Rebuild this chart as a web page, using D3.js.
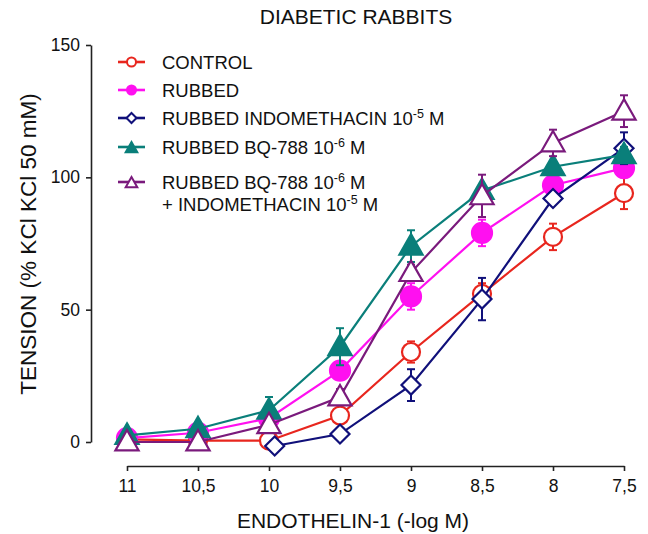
<!DOCTYPE html>
<html>
<head>
<meta charset="utf-8">
<script src="https://cdn.jsdelivr.net/npm/d3@7"></script>
<style>
  body { margin: 0; background: #fff; }
  text { font-family: "Liberation Sans", Arial, Helvetica, sans-serif; fill: #111; }
</style>
</head>
<body>
<svg id="chart" width="648" height="534"></svg>
<script>
// Dose axis (-log M) and tick labels
const doses = [11, 10.5, 10, 9.5, 9, 8.5, 8, 7.5];
const doseLabels = ["11", "10,5", "10", "9,5", "9", "8,5", "8", "7,5"];
const yTicks = [0, 50, 100, 150];

// Series values (% KCl 50 mM) and SEM
const control = [1, 0.5, 0.5, 10, 34, 56, 77.5, 94];
const controlErr = [0, 0, 0, 2, 4, 4, 5, 6];
const rubbed = [1.5, 3.5, 9, 27, 55, 79, 97, 103.5];
const rubbedErr = [0, 0, 1, 2, 5, 5, 3, 3];
const indoDoses = [9.96, 9.5, 9, 8.5, 8, 7.5];
const indo = [-1.5, 3, 21.5, 54, 92, 111];
const indoErr = [0, 0, 6, 8, 2, 6];
const bq = [2.5, 5, 12, 36, 74, 95, 104, 108.5];
const bqErr = [0, 1, 5, 7, 6, 2, 2, 3];
const bqIndo = [0, 0, 6.5, 17, 64, 93, 113, 125];
const bqIndoErr = [0, 0, 2, 3, 3, 8, 5, 6];

const svg = d3.select("#chart");

const x = d3.scaleLinear().domain([11, 7.5]).range([127, 624]);
const y = d3.scaleLinear().domain([0, 150]).range([442, 45]);

// marker shapes
const tri = s => `M0,${-s * 0.6}L${s * 0.58},${s * 0.42}L${-s * 0.58},${s * 0.42}Z`;
const diamond = s => `M0,${-s}L${s},0L0,${s}L${-s},0Z`;

const series = [
  { name: "CONTROL", color: "#e8261e", shape: "circle", fill: "#fff", xs: doses, ys: control, err: controlErr },
  { name: "RUBBED", color: "#ff10f0", shape: "circle", fill: "#ff10f0", xs: doses, ys: rubbed, err: rubbedErr },
  { name: "INDO", color: "#10107a", shape: "diamond", fill: "#fff", xs: indoDoses, ys: indo, err: indoErr },
  { name: "BQ", color: "#0a7f7a", shape: "tri", fill: "#0a7f7a", xs: doses, ys: bq, err: bqErr },
  { name: "BQINDO", color: "#7a1a7c", shape: "tri", fill: "#fff", xs: doses, ys: bqIndo, err: bqIndoErr }
];

// Axes
const xAxis = svg.append("g")
  .attr("transform", "translate(0,466)")
  .call(d3.axisBottom(x).tickValues(doses).tickFormat((d, i) => doseLabels[i]).tickSize(5).tickSizeOuter(0).tickPadding(9));
xAxis.selectAll("text").style("font-size", "17.5px");

const yAxis = svg.append("g")
  .attr("transform", "translate(91,0)")
  .call(d3.axisLeft(y).tickValues(yTicks).tickSize(5).tickSizeOuter(0).tickPadding(6));
yAxis.selectAll("text").style("font-size", "17.5px");

svg.selectAll(".domain, .tick line").attr("stroke", "#222").attr("stroke-width", 1.6);

// Titles
svg.append("text").attr("x", 356).attr("y", 24).attr("text-anchor", "middle")
  .style("font-size", "21px").text("DIABETIC RABBITS");
svg.append("text").attr("x", 353).attr("y", 528).attr("text-anchor", "middle")
  .style("font-size", "21px").text("ENDOTHELIN-1 (-log M)");
svg.append("text").attr("transform", "translate(36,244) rotate(-90)").attr("text-anchor", "middle")
  .style("font-size", "22.5px").text("TENSION (% KCl KCl 50 mM)");

function drawMarker(g, s, big) {
  if (s.shape === "circle") {
    g.append("circle").attr("r", big ? (s.fill === "#fff" ? 9 : 10) : 4.5)
      .attr("fill", s.fill).attr("stroke", s.color).attr("stroke-width", big ? 2.2 : 2);
  } else if (s.shape === "diamond") {
    g.append("path").attr("d", diamond(big ? 9.5 : 5))
      .attr("fill", s.fill).attr("stroke", s.color).attr("stroke-width", big ? 2.2 : 2);
  } else {
    g.append("path").attr("d", tri(big ? 20 : 10))
      .attr("fill", s.fill).attr("stroke", s.color).attr("stroke-width", big ? 2.2 : 2);
  }
}

// Lines, error bars, markers
const line = d3.line().x(d => x(d[0])).y(d => y(d[1]));
series.forEach(s => {
  const pts = s.xs.map((d, i) => [d, s.ys[i], s.err[i]]);
  const g = svg.append("g");
  g.append("path").attr("d", line(pts)).attr("fill", "none")
    .attr("stroke", s.color).attr("stroke-width", 2.2);
  pts.filter(p => p[2] > 0).forEach(p => {
    const cx = x(p[0]);
    [p[1] - p[2], p[1] + p[2]].forEach(v => {
      g.append("line").attr("x1", cx).attr("x2", cx).attr("y1", y(p[1])).attr("y2", y(v))
        .attr("stroke", s.color).attr("stroke-width", 2);
      g.append("line").attr("x1", cx - 4).attr("x2", cx + 4).attr("y1", y(v)).attr("y2", y(v))
        .attr("stroke", s.color).attr("stroke-width", 2);
    });
  });
  pts.forEach(p => {
    drawMarker(g.append("g").attr("transform", `translate(${x(p[0])},${y(p[1])})`), s, true);
  });
});

// Legend
const legendRows = [
  { s: 0, y: 62, lines: [["CONTROL"]] },
  { s: 1, y: 90, lines: [["RUBBED"]] },
  { s: 2, y: 118, lines: [["RUBBED INDOMETHACIN 10", "-5", " M"]] },
  { s: 3, y: 147, lines: [["RUBBED BQ-788 10", "-6", " M"]] },
  { s: 4, y: 182, lines: [["RUBBED BQ-788 10", "-6", " M"], ["+ INDOMETHACIN 10", "-5", " M"]] }
];
legendRows.forEach(r => {
  const s = series[r.s];
  const g = svg.append("g").attr("transform", `translate(0,${r.y})`);
  g.append("line").attr("x1", 118).attr("x2", 145).attr("stroke", s.color).attr("stroke-width", 2.6);
  drawMarker(g.append("g").attr("transform", `translate(131.5,${s.shape === "tri" ? 1 : 0})`), s, false);
  r.lines.forEach((parts, li) => {
    const t = g.append("text").attr("x", 162).attr("y", 7 + li * 22).style("font-size", "18.5px");
    t.append("tspan").text(parts[0]);
    if (parts[1]) {
      t.append("tspan").attr("dy", -7).style("font-size", "12.5px").text(parts[1]);
      t.append("tspan").attr("dy", 7).text(parts[2]);
    }
  });
});
</script>
</body>
</html>
